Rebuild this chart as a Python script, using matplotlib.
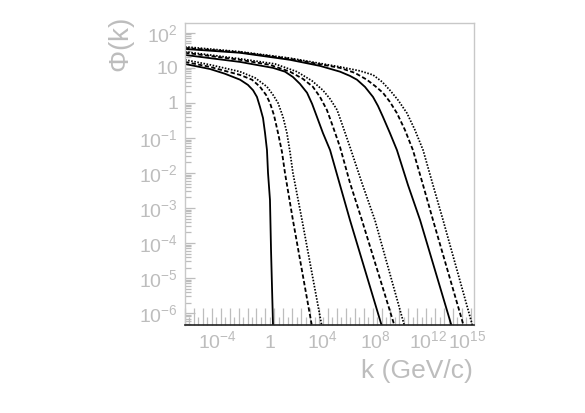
import numpy as np
import matplotlib
matplotlib.use("Agg")
import matplotlib.pyplot as plt
from matplotlib.ticker import FixedLocator, LogLocator, NullFormatter

plt.rcParams['font.family'] = ['Liberation Sans', 'DejaVu Sans']
plt.rcParams['mathtext.fontset'] = 'custom'
plt.rcParams['mathtext.rm'] = 'Liberation Sans'
plt.rcParams['mathtext.it'] = 'Liberation Sans:italic'

# values (k in GeV/c, phi dimensionless)
# group 1 (left bundle)
k_g1_solid = [3.2e-7, 2.5e-5, 3.5e-4, 4.9e-3, 0.0195, 4.8e-2, 0.095, 0.16, 0.275,
              0.39, 0.55, 0.66, 0.93, 1.12, 1.6]
phi_g1_solid = [12.9, 9.3, 6.8, 4.6, 3.27, 2.3, 1.48, 0.78, 0.37,
                0.14, 0.045, 0.01, 1.7e-3, 6.2e-5, 4e-7]
k_g1_dash = [3.2e-7, 2.5e-5, 4.9e-3, 0.04, 0.16, 0.47, 0.93, 1.87, 3.8, 7.6, 12.9, 52, 1.5e3]
phi_g1_dash = [14.8, 10.7, 6.3, 4.6, 2.9, 1.69, 1.0, 0.45, 0.14, 0.04, 0.01, 4.5e-4, 4e-7]
k_g1_dot = [3.2e-7, 2.5e-5, 4.9e-3, 0.068, 0.55, 1.6, 3.8, 9.1, 18, 31, 52, 257, 8.5e3]
phi_g1_dot = [17, 12.3, 7.8, 5.2, 2.9, 1.69, 1.0, 0.4, 0.14, 0.04, 0.01, 4.5e-4, 4e-7]

# group 2 (middle bundle)
k_g2_solid = [3.2e-7, 2.5e-5, 4.9e-3, 1.6, 12.9, 52, 178, 617, 1.5e3, 3.5e3, 1e4,
              3.5e4, 2.0e5, 1.15e6, 3.2e8]
phi_g2_solid = [23.4, 19, 14.8, 10, 7.8, 5.5, 3.5, 1.95, 0.94, 0.4, 0.138,
                0.045, 4.5e-3, 4.5e-4, 4e-7]
k_g2_dash = [3.2e-7, 2.5e-5, 4.9e-3, 0.93, 31, 302, 1.7e3, 6.0e3, 2.0e4, 5.9e4,
             2.0e5, 1.15e6, 9.3e6, 3.0e9]
phi_g2_dash = [27, 21.9, 17, 12.2, 7.8, 4.85, 2.9, 1.48, 0.63, 0.206,
               0.055, 5.2e-3, 4.5e-4, 4e-7]
k_g2_dot = [3.2e-7, 2.5e-5, 4.9e-3, 2.2, 105, 1.5e3, 1e4, 3.5e4, 1.2e5, 3.4e5,
            1.15e6, 9.3e6, 9.1e7, 1.7e10]
phi_g2_dot = [28.8, 23.4, 18.2, 13, 7.8, 4.25, 2.3, 1.3, 0.63, 0.206,
              0.055, 5.2e-3, 4.5e-4, 4e-7]

# group 3 (right bundle)
k_g3_solid = [3.2e-7, 4.9e-3, 31, 6.0e3, 2.0e5, 1.15e6, 3.9e6, 1.6e7, 6.5e7, 1.55e8,
              3.7e8, 1.26e9, 4.3e9, 3.0e10, 2.5e11, 6.6e13]
phi_g3_solid = [34.7, 27, 17, 11.4, 7.8, 5.9, 4.6, 2.86, 1.48, 0.82,
                0.4, 0.138, 0.045, 4.5e-3, 4.5e-4, 4e-7]
k_g3_dash = [3.2e-7, 4.9e-3, 31, 2.0e5, 2.75e6, 2.2e7, 9.1e7, 3.7e8, 1.26e9, 4.3e9,
             1.74e10, 7.1e10, 4.2e11, 2.4e12, 5.5e14]
phi_g3_dash = [37, 28, 18.2, 10, 7.2, 4.6, 3.06, 1.95, 1.07, 0.51,
               0.17, 0.045, 4.5e-3, 4.5e-4, 4e-7]
k_g3_dot = [3.2e-7, 4.9e-3, 31, 2.0e5, 6.6e6, 6.5e7, 3.2e8, 1.26e9, 5.1e9, 2.5e10,
            1.0e11, 4.2e11, 2.4e12, 1.4e13, 2.6e15]
phi_g3_dot = [40, 29, 19, 10.7, 8.2, 6.3, 4.0, 2.3, 1.22, 0.51,
              0.17, 0.045, 4.5e-3, 4.5e-4, 4e-7]

x_labels = [1e-4, 1, 1e4, 1e8, 1e12, 1e15]
x_label_txt = ['$10^{-4}$', '1', '$10^{4}$', '$10^{8}$', '$10^{12}$', '$10^{15}$']
y_ticks = [1e2, 1e1, 1, 1e-1, 1e-2, 1e-3, 1e-4, 1e-5, 1e-6]
y_tick_txt = ['$10^{2}$', '10', '1', '$10^{-1}$', '$10^{-2}$', '$10^{-3}$',
              '$10^{-4}$', '$10^{-5}$', '$10^{-6}$']

grey = '#bdbdbd'
frame = '#c8c8c8'

fig = plt.figure(figsize=(5.85, 4.13), dpi=100)
ax = fig.add_axes([185/585, 88/413, 289/585, 302.3/413])

solid = dict(color='black', lw=1.3, ls='-')
dash = dict(color='black', lw=1.3, ls=(0, (2.4, 1.3)))
dot = dict(color='black', lw=1.25, ls=(0, (0.9, 0.9)))

ax.plot(k_g1_solid, phi_g1_solid, **solid)
ax.plot(k_g1_dash, phi_g1_dash, **dash)
ax.plot(k_g1_dot, phi_g1_dot, **dot)
ax.plot(k_g2_solid, phi_g2_solid, **solid)
ax.plot(k_g2_dash, phi_g2_dash, **dash)
ax.plot(k_g2_dot, phi_g2_dot, **dot)
ax.plot(k_g3_solid, phi_g3_solid, **solid)
ax.plot(k_g3_dash, phi_g3_dash, **dash)
ax.plot(k_g3_dot, phi_g3_dot, **dot)

ax.set_xscale('log')
ax.set_yscale('log')
ax.set_xlim(10**-6.5, 10**15.5)
ax.set_ylim(10**-6.34, 10**2.29)

for s in ['top', 'right', 'left']:
    ax.spines[s].set_color(frame)
    ax.spines[s].set_linewidth(1.0)
ax.spines['bottom'].set_color('#222222')
ax.spines['bottom'].set_linewidth(1.2)

# x ticks: ROOT style, evenly spaced in log
tall = 10**np.arange(-6.5, 15.51, 0.68)
short = 10**(np.arange(-6.5, 15.51, 0.68) + 0.34)
ax.xaxis.set_major_locator(FixedLocator(tall))
ax.xaxis.set_minor_locator(FixedLocator(short))
ax.xaxis.set_major_formatter(NullFormatter())
ax.xaxis.set_minor_formatter(NullFormatter())
ax.tick_params(axis='x', which='major', direction='in', length=12, width=0.9, color=grey)
ax.tick_params(axis='x', which='minor', direction='in', length=6, width=0.9, color=grey)

for xv, t in zip(x_labels, x_label_txt):
    ax.text(xv, -0.075, t, transform=ax.get_xaxis_transform(), ha='center',
            va='baseline', fontsize=14, color=grey)

ax.yaxis.set_major_locator(FixedLocator(y_ticks))
ax.yaxis.set_minor_locator(LogLocator(base=10, subs=np.arange(2, 10), numticks=30))
ax.yaxis.set_minor_formatter(NullFormatter())
ax.set_yticklabels(y_tick_txt)
ax.tick_params(axis='y', which='major', direction='in', length=7, width=0.9,
               color=grey, labelcolor=grey, labelsize=14, pad=5)
ax.tick_params(axis='y', which='minor', direction='in', length=4, width=0.9, color=grey)

fig.text(473/585, (413-378)/413, 'k (GeV/c)', ha='right', va='baseline',
         fontsize=19, color=grey)
fig.text(137/585, (413-18)/413, r'$\Phi$(k)', ha='right', va='top', rotation=90,
         fontsize=20, color=grey)

fig.savefig('out.png', dpi=100)
